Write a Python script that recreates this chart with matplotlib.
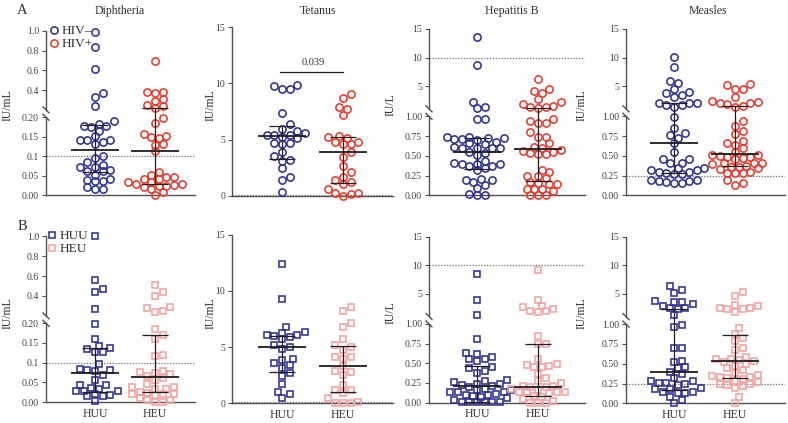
import numpy as np
import matplotlib
matplotlib.use('Agg')
import matplotlib.pyplot as plt
from matplotlib.lines import Line2D

plt.rcParams['font.family'] = ['Liberation Serif', 'DejaVu Serif']

# ---------------- data ----------------
vaccines = ['Diphtheria', 'Tetanus', 'Hepatitis B', 'Measles']
units = ['IU/mL', 'IU/mL', 'IU/L', 'IU/mL']
thresholds = [0.1, 0.1, 10, 0.25]
group_labels_A = ['HIV–', 'HIV+']
group_labels_B = ['HUU', 'HEU']

diph_hivneg = [0.99, 0.84, 0.61, 0.37, 0.33, 0.235, 0.19, 0.183, 0.177, 0.175, 0.178, 0.165,
               0.151, 0.141, 0.141, 0.132, 0.141, 0.136, 0.101, 0.095, 0.086,
               0.078, 0.073, 0.073, 0.066, 0.061, 0.061, 0.053, 0.042, 0.039, 0.036, 0.036,
               0.020, 0.015, 0.015]
diph_hivpos = [0.70, 0.386, 0.37, 0.386, 0.315, 0.29, 0.25, 0.215, 0.236,
               0.197, 0.186, 0.152, 0.146, 0.149, 0.158, 0.13, 0.132, 0.113,
               0.06, 0.047, 0.041, 0.047, 0.053, 0.041, 0.034, 0.025, 0.024, 0.026, 0.030,
               0.035, 0.015, 0.02, 0.001, 0.008, 0.029]
tet_hivneg = [9.77, 9.47, 9.47, 9.86, 7.4, 6.36, 5.55, 5.43, 5.76, 5.94, 5.43, 5.43, 5.2, 5.1,
              4.72, 4.72, 4.6, 3.92, 3.56, 3.12, 3.18, 2.44, 1.63, 1.4, 0.36]
tet_hivpos = [9.06, 8.67, 7.87, 7.69, 7.19, 5.32, 5.1, 5.2, 4.8, 4.6, 4.6, 4.8, 3.92, 3.47,
              2.64, 2.1, 1.69, 1.4, 1.04, 1.25, 0.56, 0.27, 0.0, 0.15, 0.27]
hepb_hivneg = [13.6, 8.7, 2.2, 1.1, 1.3, 0.966, 0.966, 0.735, 0.72, 0.70, 0.744, 0.71, 0.71,
               0.72, 0.66, 0.65, 0.676, 0.597, 0.597, 0.597, 0.597, 0.613, 0.513, 0.534, 0.542,
               0.40, 0.37, 0.41, 0.40, 0.429, 0.37, 0.395, 0.345, 0.315, 0.19, 0.164, 0.19,
               0.206, 0.13, 0.092, 0.02, 0.0, 0.0]
hepb_hivpos = [6.3, 4.4, 4.2, 3.7, 2.72, 2.2, 1.5, 1.16, 1.27, 1.38, 1.85, 0.945, 0.97, 0.91,
               0.91, 0.80, 0.735, 0.735, 0.617, 0.66, 0.54, 0.525, 0.525, 0.57, 0.55, 0.597,
               0.555, 0.30, 0.24, 0.248, 0.32, 0.218, 0.172, 0.155, 0.147, 0.147, 0.08, 0.08,
               0.05, 0.08, 0.008, 0.0, 0.008]
meas_hivneg = [10.1, 8.4, 5.5, 5.9, 4.5, 3.7, 3.0, 3.5, 4.0, 2.1, 2.0, 1.7, 1.4, 1.7, 2.1,
               0.99, 0.85, 0.785, 0.76, 0.73, 0.66, 0.55, 0.455, 0.455, 0.405, 0.41, 0.34,
               0.32, 0.30, 0.287, 0.295, 0.32, 0.34, 0.27, 0.27, 0.194, 0.18, 0.173, 0.152,
               0.16, 0.186, 0.194]
meas_hivpos = [5.3, 4.4, 4.4, 5.1, 3.0, 2.2, 2.1, 1.55, 1.3, 1.9, 2.1, 2.3, 0.94, 0.88, 0.81,
               0.77, 0.69, 0.64, 0.667, 0.595, 0.553, 0.47, 0.456, 0.5, 0.515, 0.506, 0.49,
               0.48, 0.405, 0.41, 0.397, 0.41, 0.376, 0.363, 0.34, 0.33, 0.363, 0.28, 0.287,
               0.28, 0.295, 0.194, 0.16, 0.13]

diph_huu = [1.0, 0.56, 0.44, 0.47, 0.27, 0.197, 0.161, 0.142, 0.134, 0.127, 0.127, 0.138,
            0.096, 0.068, 0.083, 0.08, 0.081, 0.081, 0.055, 0.042, 0.034, 0.029, 0.029, 0.029,
            0.035, 0.044, 0.019, 0.015, 0.02, 0.015, 0.003]
diph_heu = [0.51, 0.44, 0.40, 0.28, 0.235, 0.25, 0.29, 0.186, 0.171, 0.159, 0.119, 0.118,
            0.073, 0.066, 0.075, 0.07, 0.08, 0.039, 0.034, 0.046, 0.039, 0.034, 0.020, 0.017,
            0.024, 0.026, 0.02, 0.02, 0.005, 0.004, 0.0, 0.001, 0.009, 0.056, 0.06]
tet_huu = [12.4, 9.25, 6.82, 6.29, 6.08, 5.93, 5.69, 5.99, 6.05, 6.34, 5.17, 5.03, 4.8, 3.94,
           3.56, 3.38, 3.85, 3.11, 2.67, 2.43, 1.69, 1.04, 0.83, 0.47]
tet_heu = [8.54, 8.24, 7.17, 6.82, 5.75, 5.04, 4.74, 5.19, 4.15, 3.94, 4.15, 3.32, 2.9, 2.82,
           2.55, 1.6, 1.16, 0.95, 1.16, 0.5, 0.06, 0.06, 0.06, 0.12]
hepb_huu = [8.4, 3.8, 1.2, 0.81, 0.625, 0.554, 0.525, 0.554, 0.617, 0.583, 0.45, 0.442, 0.396,
            0.38, 0.275, 0.242, 0.22, 0.208, 0.233, 0.258, 0.283, 0.2, 0.137, 0.142, 0.158,
            0.158, 0.142, 0.175, 0.092, 0.054, 0.083, 0.108, 0.092, 0.075, 0.005, 0.005,
            0.003, 0.003, 0.003, 0.005, 0.033]
hepb_heu = [9.2, 3.9, 2.9, 2.3, 1.9, 1.8, 2.0, 2.6, 0.842, 0.742, 0.742, 0.554, 0.483, 0.458,
            0.45, 0.47, 0.49, 0.367, 0.317, 0.25, 0.275, 0.208, 0.2, 0.179, 0.167, 0.2, 0.208,
            0.137, 0.13, 0.117, 0.137, 0.137, 0.075, 0.042, 0.083, 0.0, 0.0, 0.0, 0.025]
meas_huu = [6.3, 5.7, 5.2, 3.8, 3.5, 2.9, 3.2, 3.6, 2.6, 2.3, 2.5, 1.35, 0.99, 0.96, 0.70, 0.70,
            0.52, 0.54, 0.458, 0.45, 0.396, 0.375, 0.283, 0.258, 0.233, 0.242, 0.258, 0.283,
            0.317, 0.188, 0.175, 0.146, 0.125, 0.133, 0.146, 0.175, 0.083, 0.042, 0.0]
meas_heu = [5.35, 4.65, 3.1, 2.6, 2.4, 1.9, 2.4, 2.6, 2.85, 0.95, 0.875, 0.825, 0.79, 0.675,
            0.7, 0.59, 0.558, 0.55, 0.517, 0.533, 0.558, 0.475, 0.425, 0.383, 0.442, 0.5,
            0.358, 0.333, 0.308, 0.317, 0.333, 0.35, 0.283, 0.242, 0.217, 0.233, 0.242, 0.267,
            0.196, 0.083, 0.0]

# median and interquartile range (Q1, median, Q3) as drawn
stats_A = [[(0.059, 0.117, 0.179), (0.029, 0.114, 0.215)],
           [(3.3, 5.32, 6.2), (1.16, 3.9, 5.26)],
           [(0.33, 0.55, 0.72), (0.176, 0.592, 1.15)],
           [(0.287, 0.658, 2.0), (0.376, 0.52, 1.5)]]
stats_B = [[(0.025, 0.073, 0.137), (0.026, 0.063, 0.171)],
           [(2.76, 4.98, 5.99), (1.04, 3.32, 5.1)],
           [(0.01, 0.208, 0.47), (0.083, 0.2, 0.742)],
           [(0.167, 0.40, 2.3), (0.317, 0.533, 0.867)]]
p_value_text = '0.039'
p_value_y = 11.0

rowA = [(diph_hivneg, diph_hivpos), (tet_hivneg, tet_hivpos),
        (hepb_hivneg, hepb_hivpos), (meas_hivneg, meas_hivpos)]
rowB = [(diph_huu, diph_heu), (tet_huu, tet_heu), (hepb_huu, hepb_heu), (meas_huu, meas_heu)]

# axis definitions
y_break = [0.2, None, 1.0, 1.0]
y_top = [1.0, 15, 15, 15]
y_ticks = [[0, 0.05, 0.1, 0.15, 0.2, 0.4, 0.6, 0.8, 1.0], [0, 5, 10, 15],
           [0, 0.25, 0.5, 0.75, 1.0, 5, 10, 15], [0, 0.25, 0.5, 0.75, 1.0, 5, 10, 15]]
y_ticklabels = [['0.00', '0.05', '0.1', '0.15', '0.20', '0.4', '0.6', '0.8', '1.0'],
                ['0', '5', '10', '15'],
                ['0.00', '0.25', '0.50', '0.75', '1.00', '5', '10', '15'],
                ['0.00', '0.25', '0.50', '0.75', '1.00', '5', '10', '15']]

# ---------------- style / layout ----------------
W, H = 788, 423
fig = plt.figure(figsize=(W / 100, H / 100), dpi=100)

BLUE = '#2E3192'
RED = '#E63B2E'
PINK = '#F3A2A2'
AXC = '#505050'
L_FR, G_FR, U_FR = 0.475, 0.045, 0.48

spine_x = [46, 232, 429, 626]
right_x = [195, 393, 585, 785]
c0 = [95, 282, 477, 674]
c1 = [155, 343, 538, 735]
tops = [[31, 27.3, 29, 29], [236.3, 234.7, 236.7, 236.7]]
bots = [[195.3, 195.7, 195.3, 195.3], [402, 403.3, 402.7, 403.3]]


def broken_funcs(b, top):
    def fwd(v):
        v = np.asarray(v, dtype=float)
        return np.where(v <= b, v / b * L_FR, L_FR + G_FR + (v - b) / (top - b) * U_FR)

    def inv(t):
        t = np.asarray(t, dtype=float)
        lo = t / L_FR * b
        hi = b + (t - L_FR - G_FR) / U_FR * (top - b)
        return np.where(t <= L_FR, lo, np.where(t < L_FR + G_FR, b, hi))
    return fwd, inv


def swarm_offsets(ypx, d, mind):
    ypx = np.asarray(ypx, float)
    offs = np.zeros(len(ypx))
    placed = []
    cands = [0.0]
    step = d / 2
    for k in range(1, 60):
        cands += [k * step, -k * step]
    for i in np.argsort(ypx):
        y = ypx[i]
        for cnd in cands:
            if all((cnd - px) ** 2 + (y - py) ** 2 >= mind ** 2 for px, py in placed):
                offs[i] = cnd
                placed.append((cnd, y))
                break
    return offs


axes = {}
for r in range(2):
    rowdata = rowA if r == 0 else rowB
    stats = stats_A if r == 0 else stats_B
    colors = (BLUE, RED) if r == 0 else (BLUE, PINK)
    marker = 'o' if r == 0 else 's'
    for c in range(4):
        left = spine_x[c] / W
        width = (right_x[c] - spine_x[c]) / W
        bottom = (H - bots[r][c]) / H
        height = (bots[r][c] - tops[r][c]) / H
        ax = fig.add_axes([left, bottom, width, height])
        axes[(r, c)] = ax
        unit = c1[c] - c0[c]
        ax.set_xlim((spine_x[c] - c0[c]) / unit, (right_x[c] - c0[c]) / unit)
        if y_break[c] is not None:
            ax.set_yscale('function', functions=broken_funcs(y_break[c], y_top[c]))
        ax.set_ylim(0, y_top[c])
        ax.set_yticks(y_ticks[c])
        ax.set_yticklabels(y_ticklabels[c])
        ax.yaxis.set_minor_locator(matplotlib.ticker.NullLocator())
        ax.tick_params(axis='y', direction='out', length=3, width=0.8, color=AXC,
                       labelsize=7, labelcolor='#404040', pad=2)
        for s in ('top', 'right'):
            ax.spines[s].set_visible(False)
        ax.spines['bottom'].set_color(AXC)
        ax.spines['bottom'].set_linewidth(1.0)
        ax.spines['left'].set_color(AXC)
        ax.spines['left'].set_linewidth(1.0)
        ax.patch.set_alpha(0)

        if r == 0:
            ax.set_xticks([])
        else:
            ax.set_xticks([0, 1])
            ax.set_xticklabels(group_labels_B)
            ax.tick_params(axis='x', length=0, labelsize=8.5, pad=4, labelcolor='#303030')

        # threshold line
        ax.axhline(thresholds[c], color='#707070', ls=(0, (1, 1.3)), lw=0.9, zorder=1)

        # broken axis spine
        if y_break[c] is not None:
            ax.spines['left'].set_visible(False)
            axw = right_x[c] - spine_x[c]
            axh = bots[r][c] - tops[r][c]
            dx, dy = 3.0 / axw, 3.0 / axh
            kw = dict(transform=ax.transAxes, color=AXC, lw=1.0, clip_on=False)
            ax.plot([0, 0], [0, L_FR], **kw)
            ax.plot([0, 0], [L_FR + G_FR, 1], **kw)
            ax.plot([-dx, dx], [L_FR + dy, L_FR - dy], **kw)
            ax.plot([-dx, dx], [L_FR + G_FR + dy, L_FR + G_FR - dy], **kw)

        # points (swarm)
        px_per_x = ax.transData.transform([[1, 0]])[0, 0] - ax.transData.transform([[0, 0]])[0, 0]
        for g in range(2):
            vals = np.asarray(rowdata[c][g], float)
            ypx = ax.transData.transform(np.column_stack([np.zeros_like(vals), vals]))[:, 1]
            offs = swarm_offsets(ypx, 7.6, 6.6) / px_per_x
            ax.plot(g + offs, vals, ls='none', marker=marker, mfc='none', mec=colors[g],
                    ms=5.2 if marker == 'o' else 4.9, mew=1.15, clip_on=False, zorder=3)
            q1, med, q3 = stats[c][g]
            lk = dict(color='#1e1e1e', solid_capstyle='butt', zorder=5, clip_on=False)
            ax.plot([g - 0.4, g + 0.4], [med, med], lw=1.3, **lk)
            ax.plot([g, g], [q1, q3], lw=0.9, **lk)
            ax.plot([g - 0.22, g + 0.22], [q1, q1], lw=0.9, **lk)
            ax.plot([g - 0.22, g + 0.22], [q3, q3], lw=0.9, **lk)

# p-value bracket on tetanus (row A)
axT = axes[(0, 1)]
axT.plot([-0.03, 1.0], [p_value_y, p_value_y], color='#1e1e1e', lw=0.9)
axT.text(0.52, p_value_y + 0.45, p_value_text, ha='center', va='bottom', fontsize=7.5,
         color='#303030')

# titles, labels, panel letters
title_x = [120, 318, 512, 708]
for c in range(4):
    fig.text(title_x[c] / W, 1 - 11 / H, vaccines[c], ha='center', va='center',
             fontsize=8.5, color='#303030')
ylabel_x = [8, 211, 391, 582]
for r, yc in enumerate([105, 313]):
    for c in range(4):
        fig.text(ylabel_x[c] / W, 1 - yc / H, units[c], rotation=90, ha='center',
                 va='center', fontsize=8.5, color='#303030')
fig.text(22 / W, 1 - 11 / H, 'A', ha='center', va='center', fontsize=10.5, color='#303030')
fig.text(22 / W, 1 - 226 / H, 'B', ha='center', va='center', fontsize=10.5, color='#303030')

# legends
hA = [Line2D([], [], ls='none', marker='o', mfc='none', mec=BLUE, ms=5.2, mew=1.15,
             label=group_labels_A[0]),
      Line2D([], [], ls='none', marker='o', mfc='none', mec=RED, ms=5.2, mew=1.15,
             label=group_labels_A[1])]
hB = [Line2D([], [], ls='none', marker='s', mfc='none', mec=BLUE, ms=4.9, mew=1.15,
             label=group_labels_B[0]),
      Line2D([], [], ls='none', marker='s', mfc='none', mec=PINK, ms=4.9, mew=1.15,
             label=group_labels_B[1])]
legkw = dict(loc='upper left', frameon=False, handlelength=0.6, handletextpad=0.3,
             labelspacing=0.05, borderpad=0, borderaxespad=0, fontsize=9.5,
             labelcolor='#303030')
fig.legend(handles=hA, bbox_to_anchor=(50 / W, 1 - 25 / H), **legkw)
fig.legend(handles=hB, bbox_to_anchor=(48 / W, 1 - 230 / H), **legkw)

fig.savefig('out.png', dpi=100)
